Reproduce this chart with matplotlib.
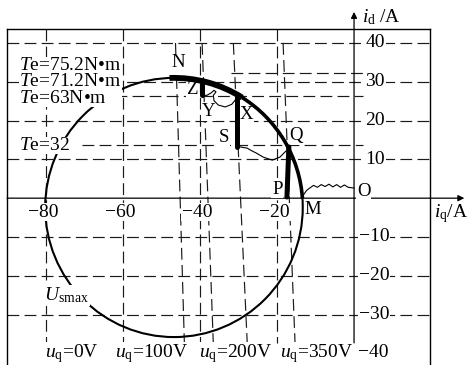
import matplotlib
matplotlib.use("Agg")
import matplotlib.pyplot as plt
from matplotlib.patches import Ellipse, Arc

plt.rcParams.update({
    "font.family": "Liberation Serif",
    "mathtext.fontset": "custom",
    "mathtext.rm": "Liberation Serif",
    "mathtext.it": "Liberation Serif:italic",
    "lines.scale_dashes": False,
})

# ---- data -------------------------------------------------------------
x_ticks = [-80, -60, -40, -20]
y_ticks = [40, 30, 20, 10, -10, -20, -30, -40]

# voltage-limit circle U_smax (centre in (iq, id), radius in A)
usmax_center = (-46.7, -2.4)
usmax_radius = 33.4

# constant-torque labels and their dashed reference lines
te_texts = ["75.2N\u2022m", "71.2N\u2022m", "63N\u2022m"]
te_low_text = "32"
te_low_id = 13.7
te_line_id = [32.3, 26.3, 13.7]
te_line_start = [-32.0, -62.0, -70.5]
te_line_end = 2.3

# constant-uq lines (nearly vertical)
uq_texts = ["0V", "100V", "200V", "350V"]
uq_text_iq = [-73.3, -52.6, -30.8, -9.7]
uq_top_iq = [-46.3, -39.4, -31.3, -18.4]
uq_bot_iq = [-44.0, -36.5, -27.7, -15.3]
uq_top_id, uq_bot_id = 40.0, -37.3

# measured trajectory pieces
om_iq = [0.0, -1.5, -2.5, -3.5, -4.5, -5.5, -6.5, -7.5, -8.5, -9.5, -10.5, -11.5, -12.3, -13.0]
om_id = [2.6, 2.8, 3.4, 2.8, 3.5, 2.9, 3.6, 3.0, 3.5, 2.8, 3.3, 2.6, 2.0, 1.0]

qs_iq = [-16.6, -17.9, -19.2, -21.2, -23.6, -25.3, -26.9, -27.7, -29.0, -30.3]
qs_id = [13.1, 11.9, 10.6, 9.8, 10.6, 11.6, 12.4, 12.9, 13.1, 13.4]

xy_iq = [-30.8, -31.7, -33.4, -35.2, -36.3, -36.5, -35.8, -36.3, -37.1, -38.2, -39.1]
xy_id = [25.3, 24.2, 23.5, 24.0, 25.1, 26.5, 27.4, 27.8, 27.1, 26.5, 26.5]

pq_iq = [-17.4, -16.9]
pq_id = [0.3, 13.2]
sx_iq = [-30.3, -30.3]
sx_id = [13.1, 26.6]
yz_iq = [-39.4, -39.4]
yz_id = [26.6, 30.3]

arc_thick_deg = (58.0, 92.0)
arc_mid_deg = (4.0, 58.0)

pt_names = ["N", "Z", "Y", "X", "S", "Q", "P", "M", "O"]
pt_iq = [-45.6, -42.0, -37.8, -28.0, -33.7, -15.0, -19.9, -10.6, 2.5]
pt_id = [34.9, 28.1, 22.4, 21.6, 15.6, 16.2, 2.3, -2.8, 1.8]

# ---- figure -----------------------------------------------------------
fig = plt.figure(figsize=(4.68, 3.65), dpi=100)
ax = fig.add_axes([7 / 468, 0, 423 / 468, 336 / 365])
ax.set_xlim(-90, 19.7)
ax.set_ylim(-43.0, 43.6)
ax.set_xticks([])
ax.set_yticks([])
for side in ("left", "right", "top"):
    ax.spines[side].set_linewidth(1.0)
ax.spines["bottom"].set_visible(False)

dash = (0, (8.5, 3.8))
gkw = dict(color="#1a1a1a", lw=0.85, linestyle=dash, zorder=1)

# grid
for y in y_ticks[:-1]:
    ax.plot([-90, 19.7], [y, y], **gkw)
for x in x_ticks:
    ax.plot([x, x], [43.6, uq_bot_id], **gkw)
for y, x0 in zip(te_line_id, te_line_start):
    ax.plot([x0, te_line_end], [y, y], **gkw)
for xt, xb in zip(uq_top_iq, uq_bot_iq):
    ax.plot([xt, xb], [uq_top_id, uq_bot_id], **gkw)

# coordinate axes with arrows
ax.annotate("", xy=(28.6, 0), xytext=(-90, 0), xycoords="data",
            arrowprops=dict(arrowstyle="-|>", lw=0.9, color="black",
                            mutation_scale=9, shrinkA=0, shrinkB=0),
            annotation_clip=False, zorder=2)
ax.annotate("", xy=(0, 48.0), xytext=(0, uq_bot_id), xycoords="data",
            arrowprops=dict(arrowstyle="-|>", lw=0.9, color="black",
                            mutation_scale=9, shrinkA=0, shrinkB=0),
            annotation_clip=False, zorder=2)

# voltage-limit circle
ax.add_patch(Ellipse(usmax_center, 2 * usmax_radius, 2 * usmax_radius,
                     fill=False, lw=1.5, color="black", zorder=4))

# trajectory
ax.add_patch(Arc(usmax_center, 2 * usmax_radius, 2 * usmax_radius,
                 theta1=arc_thick_deg[0], theta2=arc_thick_deg[1],
                 lw=4.2, color="black", zorder=5))
ax.add_patch(Arc(usmax_center, 2 * usmax_radius, 2 * usmax_radius,
                 theta1=arc_mid_deg[0], theta2=arc_mid_deg[1],
                 lw=2.6, color="black", zorder=5))
tkw = dict(color="black", lw=0.8, zorder=5)
ax.plot(om_iq, om_id, **tkw)
ax.plot(qs_iq, qs_id, **tkw)
ax.plot(xy_iq, xy_id, **tkw)
bkw = dict(color="black", lw=3.6, solid_capstyle="round", zorder=5)
ax.plot(pq_iq, pq_id, **bkw)
ax.plot(sx_iq, sx_id, **bkw)
ax.plot(yz_iq, yz_id, **bkw)

# text
box = dict(facecolor="white", edgecolor="none", pad=0.6)
box0 = dict(facecolor="white", edgecolor="none", pad=0.0)
fs = 14

for name, x, y in zip(pt_names, pt_iq, pt_id):
    ax.text(x, y, name, fontsize=13.5, ha="center", va="center",
            bbox=box, zorder=3)

for x in x_ticks:
    ax.text(x - 0.6, -3.6, "\u2212%d" % abs(x), fontsize=fs, ha="center",
            va="center", bbox=box, zorder=6)
for y in y_ticks[:-1]:
    lab = ("%d" % y) if y > 0 else "\u2212%d" % abs(y)
    ax.text(5.5 if y > 0 else 5.2, y, lab, fontsize=fs,
            ha="center", va="center", bbox=box, zorder=6)
ax.text(5.1, -41.0, "\u2212%d" % abs(y_ticks[-1]), fontsize=fs,
        ha="center", va="baseline", bbox=box0, zorder=6)

# stacked torque labels in one block
te_block = "\n".join(r"$T$e=" + t for t in te_texts)
ax.text(-86.8, 30.0, te_block, fontsize=fs, ha="left", va="center",
        linespacing=0.97, bbox=box0, zorder=6)
ax.text(-86.8, te_low_id, r"$T$e=" + te_low_text, fontsize=fs, ha="left",
        va="center", bbox=box0, zorder=6)

for t, x in zip(uq_texts, uq_text_iq):
    ax.text(x, -41.0, r"$u_{\mathrm{q}}$=" + t, fontsize=fs, ha="center",
            va="baseline", bbox=box0, zorder=6)

ax.text(-74.6, -25.0, r"$U_{\mathrm{smax}}$", fontsize=fs, ha="center",
        va="center", bbox=box, zorder=6)
ax.text(7.0, 46.6, r"$i_{\mathrm{d}}$ /A", fontsize=fs, ha="center",
        va="center", clip_on=False)
ax.text(25.1, -3.9, r"$i_{\mathrm{q}}$/A", fontsize=fs, ha="center",
        va="center", clip_on=False)

fig.savefig("out.png", dpi=100)
